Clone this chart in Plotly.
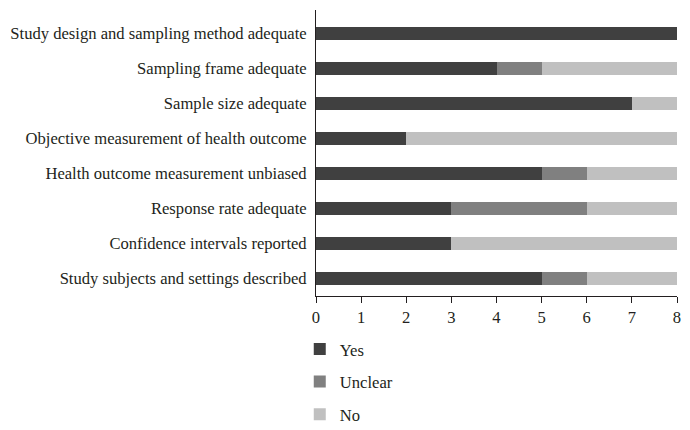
import plotly.graph_objects as go

categories = [
    "Study design and sampling method adequate",
    "Sampling frame adequate",
    "Sample size adequate",
    "Objective measurement of health outcome",
    "Health outcome measurement unbiased",
    "Response rate adequate",
    "Confidence intervals reported",
    "Study subjects and settings described",
]
yes = [8, 4, 7, 2, 5, 3, 3, 5]
unclear = [0, 1, 0, 0, 1, 3, 0, 1]
no = [0, 3, 1, 6, 2, 2, 5, 2]
x_ticks = [0, 1, 2, 3, 4, 5, 6, 7, 8]

series = [("Yes", yes, "#404040"), ("Unclear", unclear, "#808080"), ("No", no, "#c0c0c0")]

FONT = "Liberation Serif"
OFF = 8  # page body offset
fig = go.Figure()
for name, vals, col in series:
    fig.add_trace(go.Bar(
        y=categories, x=vals, name=name, orientation="h",
        marker=dict(color=col, line=dict(width=0)),
        legendgroup=name,
    ))

fig.update_layout(
    barmode="stack",
    bargap=0.63,
    width=690 - OFF, height=430 - OFF,
    margin=dict(l=316 - OFF, r=13, t=10 - OFF, b=134, autoexpand=False),
    plot_bgcolor="white", paper_bgcolor="white",
    font=dict(family=FONT, size=16.6, color="#231f20"),
    showlegend=True,
    legend=dict(
        orientation="v", x=-0.045, xanchor="left", y=-0.125, yanchor="top",
        traceorder="grouped", tracegroupgap=8,
        font=dict(family=FONT, size=16.6, color="#231f20"),
        itemwidth=30,
    ),
    xaxis=dict(
        range=[0, 8], tickvals=x_ticks, ticks="outside", ticklen=6,
        tickcolor="#231f20", showline=True, linecolor="#231f20", linewidth=1,
        showgrid=False, zeroline=False, fixedrange=True,
    ),
    yaxis=dict(
        categoryorder="array", categoryarray=categories,
        range=[7.5, -0.67], showline=True, linecolor="#231f20", linewidth=1,
        showgrid=False, zeroline=False, ticks="", ticklen=0,
        ticklabelstandoff=5,
    ),
)
fig.write_html("out.html")
